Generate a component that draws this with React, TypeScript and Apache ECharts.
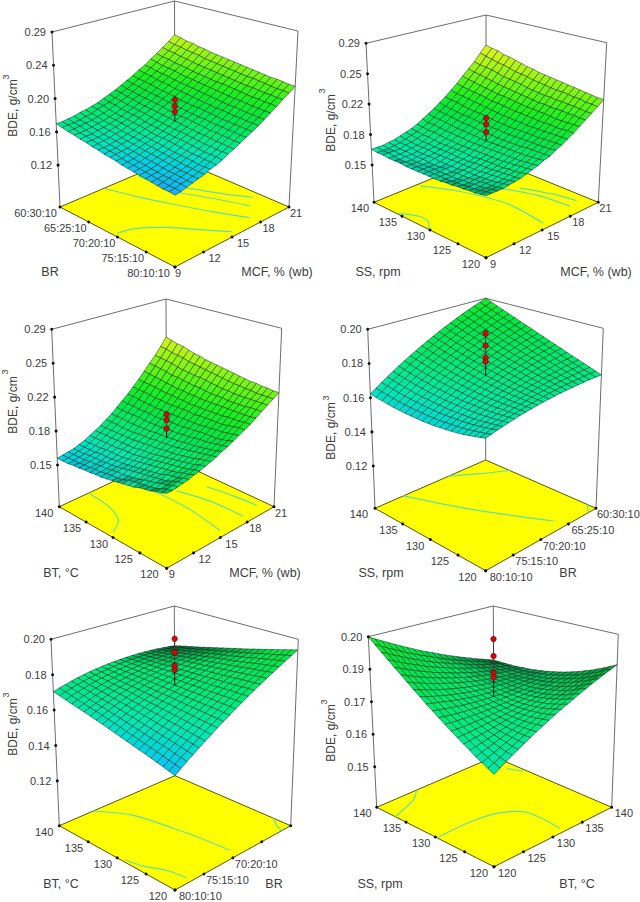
import React, { useEffect, useRef } from "react";
import * as echarts from "echarts";

// ---- surface values: rows run from the left edge to the front edge, columns along the right axis
const surfaceA = [
[173,173,174,175,177,178,180,182,185,188,191,195,199,203,208,212,218,223,229,235,242],
[171,172,172,173,175,176,179,181,183,186,190,193,197,201,206,211,216,221,227,233,240],
[169,170,171,172,173,175,177,179,182,185,188,192,196,200,205,209,214,220,226,232,238],
[168,168,169,170,172,173,175,177,180,183,187,190,194,199,203,208,213,218,224,230,237],
[166,167,167,169,170,172,174,176,179,182,185,189,193,197,202,207,212,217,223,229,235],
[165,165,166,167,169,171,173,175,178,181,184,188,192,196,201,205,210,216,221,228,234],
[163,164,165,166,168,169,172,174,177,180,183,187,191,195,199,204,209,214,220,226,232],
[162,162,163,165,166,168,170,173,175,178,182,186,189,194,198,203,208,213,219,225,231],
[160,161,162,164,165,167,169,172,174,177,181,184,188,192,197,202,207,212,218,224,230],
[159,160,161,162,164,166,168,170,173,176,180,183,187,191,196,201,206,211,217,223,229],
[158,158,160,161,163,165,167,169,172,175,179,182,186,190,195,200,205,210,216,222,228],
[156,157,158,160,162,164,166,169,171,174,178,182,185,190,194,199,204,210,215,221,227],
[155,156,157,159,161,163,165,168,170,174,177,181,184,189,193,198,203,209,214,220,226],
[154,155,156,158,160,162,164,167,170,173,176,180,184,188,192,197,202,208,213,219,225],
[153,154,155,157,159,161,163,166,169,172,175,179,183,187,192,196,201,207,212,219,224],
[152,153,154,156,158,160,162,165,168,171,175,178,182,186,191,196,201,206,212,218,223],
[151,152,153,155,157,159,162,164,167,170,174,178,182,186,190,195,200,205,211,217,222],
[150,151,153,155,156,158,161,164,166,170,173,177,181,185,190,194,199,205,210,216,222],
[149,150,152,154,156,158,160,163,166,169,173,177,181,185,189,194,199,204,210,215,221],
[149,150,152,153,155,157,160,163,166,169,172,176,180,184,189,193,198,204,209,215,220],
[148,149,151,153,155,157,160,162,165,169,172,176,180,184,188,193,198,203,209,214,220],
];
const surfaceB = [
[168,168,168,169,170,172,174,176,179,183,187,191,196,201,207,213,220,227,234,243,251],
[167,167,167,168,169,171,173,175,178,181,185,190,194,199,205,211,218,225,232,241,249],
[167,167,167,167,169,170,172,174,177,181,185,189,193,199,204,210,217,224,231,239,248],
[166,166,166,167,168,169,171,174,177,180,184,188,192,197,203,209,215,222,230,237,245],
[166,165,166,166,167,169,171,173,176,179,183,187,191,196,202,208,214,221,228,236,244],
[166,165,165,166,167,169,170,172,175,179,182,186,191,195,201,207,213,219,226,234,242],
[165,165,165,166,167,168,170,172,175,178,182,186,190,195,200,205,211,218,225,232,240],
[165,165,165,165,167,168,170,172,174,178,181,185,189,194,199,205,211,217,224,231,238],
[165,165,165,165,166,168,170,172,174,177,181,184,189,193,198,204,210,216,223,230,237],
[165,165,165,165,166,168,169,172,174,177,180,184,188,192,197,203,209,215,221,228,235],
[165,165,165,166,166,168,169,171,174,177,180,184,188,192,197,202,208,214,220,227,234],
[165,165,165,165,166,168,169,171,174,177,180,183,187,191,196,202,207,213,219,226,233],
[165,165,165,166,167,168,170,172,174,177,180,183,187,191,196,201,207,212,218,225,232],
[166,165,165,166,167,168,170,172,174,177,180,183,187,191,195,201,206,212,218,224,231],
[166,166,166,166,167,168,170,172,174,177,180,183,187,191,195,200,206,211,217,224,230],
[167,166,166,167,167,169,170,172,174,177,180,183,187,191,195,200,205,211,217,223,229],
[167,167,167,167,168,169,171,172,175,177,180,184,187,190,195,200,204,211,216,222,228],
[168,167,167,168,168,170,171,173,175,177,180,184,187,191,195,199,204,210,216,222,227],
[168,168,168,168,169,170,172,173,176,178,181,184,187,191,195,199,204,210,215,220,226],
[169,169,169,169,170,171,172,174,176,178,181,184,187,191,195,200,204,209,214,220,225],
[170,170,170,170,171,172,173,175,177,179,182,184,188,191,195,199,204,209,214,219,225],
];
const surfaceC = [
[157,158,159,160,162,164,167,170,173,177,181,186,191,196,202,208,215,222,229,237,246],
[157,158,159,160,162,164,167,170,173,177,181,185,190,196,201,207,214,221,228,236,244],
[157,158,159,160,162,164,167,170,173,177,181,185,190,195,201,207,213,220,227,234,242],
[158,158,159,161,162,164,167,170,173,176,180,185,189,194,200,206,212,219,226,233,241],
[158,159,160,161,163,165,167,170,173,176,180,185,189,194,199,205,211,217,224,232,239],
[159,159,160,161,163,165,167,170,173,176,180,184,189,193,199,204,210,217,223,230,237],
[159,160,161,162,163,165,168,170,173,177,180,184,188,193,198,204,209,216,222,229,236],
[160,160,161,162,164,165,168,170,174,177,180,184,188,193,198,203,209,215,221,228,234],
[160,161,162,163,164,166,168,171,174,177,181,184,189,193,198,203,208,214,221,227,233],
[161,162,163,164,165,167,169,172,175,178,181,185,189,193,198,202,208,214,220,226,232],
[162,162,163,165,166,168,170,172,175,178,181,185,189,193,198,202,207,213,219,225,231],
[163,163,164,166,167,169,171,173,176,179,182,185,189,193,197,202,207,212,218,224,230],
[164,165,165,167,168,170,172,174,177,179,182,186,190,193,198,202,207,212,217,223,229],
[165,166,166,168,169,171,173,175,177,180,183,186,190,193,198,202,207,212,217,222,228],
[166,167,168,169,170,172,174,176,178,181,184,187,191,194,198,202,207,211,216,222,227],
[168,168,169,170,171,173,175,177,179,182,184,188,191,194,198,202,207,211,216,221,226],
[169,169,170,171,173,174,176,178,180,183,185,188,191,195,198,203,207,211,216,221,226],
[170,170,172,172,174,175,177,179,181,184,186,189,191,195,199,203,207,211,216,220,225],
[172,172,173,174,175,177,178,180,183,185,187,190,192,196,200,203,207,212,216,220,225],
[173,174,175,176,177,178,180,182,184,186,188,191,193,197,201,204,207,212,216,220,224],
[175,175,176,177,178,180,181,183,185,187,190,192,195,198,201,204,208,212,216,220,224],
];
const surfaceD = [
[1622,1645,1668,1690,1712,1733,1754,1774,1794,1814,1833,1852,1870,1888,1905,1922,1939,1955,1970,1985,2000],
[1615,1638,1660,1682,1703,1724,1745,1765,1784,1804,1822,1841,1858,1876,1893,1909,1925,1941,1956,1971,1985],
[1610,1632,1654,1675,1696,1716,1736,1756,1775,1794,1811,1829,1846,1863,1880,1896,1911,1926,1941,1955,1969],
[1605,1626,1648,1668,1689,1709,1728,1747,1766,1784,1801,1819,1835,1852,1868,1883,1898,1913,1927,1941,1954],
[1600,1621,1642,1662,1682,1701,1720,1739,1757,1775,1792,1808,1825,1840,1856,1871,1885,1899,1913,1926,1939],
[1597,1617,1638,1657,1677,1696,1714,1732,1749,1767,1783,1799,1815,1830,1845,1860,1873,1887,1900,1913,1925],
[1594,1614,1634,1652,1671,1688,1707,1725,1741,1758,1774,1790,1805,1819,1834,1848,1861,1874,1886,1898,1910],
[1593,1612,1631,1650,1668,1685,1703,1719,1735,1751,1766,1782,1796,1810,1824,1837,1849,1862,1874,1885,1896],
[1592,1611,1629,1647,1664,1681,1697,1714,1729,1744,1759,1774,1787,1801,1813,1826,1838,1850,1861,1872,1882],
[1591,1609,1627,1645,1660,1677,1693,1708,1723,1738,1752,1765,1779,1791,1803,1816,1827,1838,1849,1859,1868],
[1592,1609,1626,1643,1659,1674,1690,1704,1718,1732,1745,1759,1771,1783,1794,1806,1816,1827,1837,1846,1855],
[1593,1609,1626,1641,1657,1671,1686,1700,1713,1727,1739,1751,1763,1774,1785,1796,1805,1814,1824,1833,1841],
[1596,1612,1627,1642,1656,1670,1684,1697,1710,1722,1734,1746,1756,1767,1777,1786,1796,1804,1813,1820,1828],
[1599,1614,1629,1643,1656,1670,1683,1695,1706,1718,1729,1740,1750,1760,1769,1779,1787,1794,1803,1809,1815],
[1602,1616,1630,1643,1656,1669,1681,1692,1703,1714,1724,1734,1743,1752,1761,1769,1776,1783,1790,1796,1802],
[1607,1620,1633,1645,1657,1669,1680,1691,1701,1711,1720,1729,1737,1745,1753,1760,1767,1773,1779,1784,1789],
[1612,1624,1637,1648,1659,1670,1680,1690,1699,1708,1717,1725,1733,1739,1746,1752,1758,1763,1769,1773,1777],
[1619,1630,1642,1652,1662,1672,1682,1691,1698,1707,1714,1721,1728,1734,1740,1745,1750,1754,1758,1762,1765],
[1626,1636,1647,1656,1665,1675,1683,1691,1698,1705,1712,1718,1723,1729,1734,1738,1742,1745,1748,1751,1753],
[1633,1642,1652,1660,1669,1677,1684,1691,1697,1704,1709,1714,1719,1723,1727,1731,1733,1735,1738,1740,1741],
[1642,1650,1659,1666,1673,1680,1687,1692,1698,1703,1708,1712,1715,1719,1721,1724,1726,1727,1728,1729,1729],
];
const surfaceE = [
[1704,1714,1723,1732,1740,1747,1753,1758,1762,1766,1769,1771,1772,1773,1773,1772,1770,1767,1763,1759,1754],
[1695,1706,1716,1725,1733,1741,1748,1754,1759,1764,1768,1771,1773,1774,1775,1775,1774,1773,1770,1767,1763],
[1686,1697,1708,1718,1727,1735,1743,1750,1756,1761,1766,1770,1773,1776,1777,1778,1779,1778,1777,1775,1773],
[1677,1689,1700,1711,1721,1730,1739,1746,1753,1759,1765,1770,1774,1777,1780,1782,1783,1785,1784,1783,1782],
[1668,1680,1692,1704,1714,1724,1733,1742,1749,1757,1763,1769,1774,1779,1782,1785,1788,1790,1791,1791,1791],
[1660,1672,1684,1697,1708,1719,1729,1738,1747,1755,1763,1768,1775,1780,1785,1790,1793,1796,1798,1799,1800],
[1651,1665,1678,1691,1702,1714,1725,1735,1745,1753,1762,1769,1776,1783,1788,1794,1798,1802,1805,1808,1810],
[1642,1656,1670,1684,1696,1708,1720,1731,1741,1751,1760,1768,1777,1784,1791,1797,1803,1808,1812,1816,1819],
[1633,1648,1663,1677,1690,1703,1715,1727,1738,1748,1759,1768,1777,1785,1793,1801,1807,1813,1819,1824,1829],
[1624,1640,1655,1669,1684,1697,1710,1723,1734,1746,1757,1767,1777,1787,1796,1804,1812,1819,1826,1832,1838],
[1615,1632,1647,1662,1677,1691,1705,1719,1732,1744,1756,1767,1778,1788,1798,1807,1816,1825,1833,1840,1847],
[1606,1623,1639,1655,1671,1686,1701,1715,1729,1742,1755,1767,1779,1790,1802,1812,1821,1831,1839,1848,1856],
[1597,1615,1632,1648,1665,1681,1696,1711,1725,1739,1753,1766,1779,1791,1803,1815,1826,1836,1846,1856,1865],
[1588,1606,1624,1641,1658,1675,1691,1707,1722,1737,1752,1766,1780,1793,1806,1819,1830,1842,1853,1864,1875],
[1579,1598,1616,1634,1652,1669,1686,1703,1719,1735,1751,1765,1780,1795,1808,1822,1835,1848,1860,1872,1884],
[1571,1590,1609,1627,1646,1664,1682,1699,1716,1733,1750,1765,1781,1796,1811,1826,1840,1854,1868,1881,1894],
[1562,1582,1602,1621,1640,1659,1677,1695,1713,1731,1749,1765,1782,1798,1814,1830,1845,1860,1875,1889,1903],
[1553,1574,1595,1614,1634,1654,1672,1691,1711,1729,1747,1765,1783,1799,1817,1833,1850,1867,1882,1897,1912],
[1544,1565,1586,1607,1628,1648,1668,1688,1707,1727,1746,1765,1783,1801,1819,1837,1854,1872,1889,1905,1922],
[1535,1557,1579,1600,1622,1643,1663,1684,1704,1724,1744,1764,1784,1803,1822,1841,1859,1878,1896,1913,1931],
[1526,1549,1571,1593,1615,1637,1658,1680,1701,1722,1743,1763,1784,1804,1824,1844,1863,1883,1902,1921,1940],
];
const surfaceF = [
[2000,1986,1973,1960,1947,1934,1921,1909,1896,1884,1873,1861,1849,1838,1827,1816,1806,1795,1785,1775,1765],
[1977,1964,1951,1939,1927,1914,1902,1891,1880,1869,1858,1847,1837,1827,1818,1808,1799,1790,1781,1772,1765],
[1955,1943,1931,1919,1907,1896,1885,1874,1864,1854,1845,1835,1827,1818,1809,1801,1793,1786,1779,1772,1765],
[1933,1922,1910,1899,1889,1879,1868,1859,1850,1841,1832,1824,1816,1809,1802,1795,1788,1782,1776,1771,1766],
[1912,1901,1891,1881,1871,1862,1852,1844,1836,1828,1820,1814,1807,1800,1795,1789,1784,1779,1775,1771,1767],
[1892,1882,1872,1863,1854,1846,1838,1831,1823,1817,1810,1804,1799,1794,1789,1785,1781,1778,1775,1772,1770],
[1872,1863,1855,1846,1839,1831,1825,1818,1812,1806,1801,1796,1792,1787,1785,1781,1778,1776,1775,1773,1772],
[1852,1844,1837,1830,1823,1817,1811,1806,1801,1796,1793,1789,1786,1783,1781,1779,1778,1776,1776,1775,1776],
[1834,1827,1820,1815,1809,1804,1800,1796,1792,1789,1786,1783,1781,1780,1778,1778,1778,1777,1778,1779,1780],
[1815,1810,1806,1801,1796,1793,1789,1786,1783,1781,1780,1778,1777,1777,1777,1777,1778,1779,1781,1783,1785],
[1798,1794,1790,1787,1784,1781,1779,1777,1776,1775,1775,1774,1775,1775,1776,1778,1780,1782,1784,1787,1791],
[1781,1778,1775,1773,1772,1771,1770,1770,1769,1770,1770,1772,1773,1775,1776,1779,1782,1785,1788,1793,1797],
[1765,1764,1763,1762,1762,1762,1762,1763,1764,1766,1767,1769,1772,1774,1778,1781,1785,1789,1794,1799,1804],
[1749,1749,1749,1751,1752,1753,1755,1757,1760,1762,1765,1768,1772,1776,1780,1785,1790,1795,1800,1806,1812],
[1734,1736,1738,1740,1743,1746,1749,1752,1756,1760,1764,1768,1773,1778,1783,1789,1794,1800,1807,1814,1820],
[1720,1723,1727,1731,1735,1739,1744,1749,1754,1759,1765,1770,1776,1782,1788,1795,1801,1808,1816,1822,1830],
[1706,1711,1716,1722,1728,1734,1740,1746,1753,1759,1766,1772,1779,1787,1793,1800,1808,1816,1823,1831,1839],
[1692,1699,1707,1714,1722,1729,1737,1744,1752,1760,1768,1775,1783,1792,1799,1808,1816,1825,1833,1842,1850],
[1680,1689,1698,1707,1717,1726,1735,1744,1753,1762,1771,1780,1789,1798,1807,1816,1825,1834,1843,1852,1861],
[1668,1679,1689,1701,1711,1723,1733,1744,1755,1766,1775,1786,1795,1806,1816,1827,1835,1846,1854,1865,1873],
[1656,1669,1683,1696,1708,1721,1733,1745,1757,1769,1781,1792,1803,1814,1825,1835,1846,1856,1866,1875,1885],
];

// replicated centre-point measurements, BDE g/cm3
const pointsA = [0.206, 0.198, 0.191];
const pointsB = [0.206, 0.199, 0.190];
const pointsC = [0.2045, 0.1987, 0.190];
const pointsD = [0.1988, 0.1917, 0.1847, 0.1824];
const pointsE = [0.2016, 0.1939, 0.1864, 0.1842];
const pointsF = [0.1994, 0.1929, 0.1866, 0.1847];
// where each panel's stem meets the surface
const stemFoot = [0.178, 0.179, 0.18, 0.1745, 0.1758, 0.1773];

// iso-lines on the floor, [share of left axis, share of depth axis]
const contoursA = [
  [[0.007,0.385],[0.194,0.446],[0.443,0.545],[0.69,0.647],[0.911,0.746]],
  [[0.024,0.66],[0.191,0.681],[0.348,0.757],[0.589,0.864],[0.739,0.947]],
  [[0.355,0.677],[0.567,0.77],[0.803,0.854]],
  [[0.466,0.028],[0.495,0.145],[0.625,0.305],[0.791,0.43],[0.952,0.545]],
];
const contoursB = [
  [[0.025,0.385],[0.253,0.514],[0.58,0.603],[0.941,0.569]],
  [[0.486,0.816],[0.703,0.896],[0.878,0.929]],
  [[0.418,0.735],[0.635,0.815],[0.901,0.846]],
  [[0.207,0.01],[0.328,0.082],[0.41,0.074],[0.489,0]],
];
const contoursC = [
  [[0.009,0.525],[0.244,0.601],[0.576,0.61],[0.939,0.558]],
  [[0.015,0.271],[0.226,0.246],[0.38,0.17],[0.455,0.048]],
  [[0.481,0.892],[0.696,0.925],[0.898,0.941]],
  [[0.376,0.717],[0.657,0.778],[0.931,0.783]],
];
const contoursD = [
  [[0,0.256],[0.406,0.454],[0.901,0.713]],
  [[0,0.664],[0.114,0.836],[0.217,1]],
  [[0.92,1],[1,0.93]],
];
const contoursE = [
  [[0,0.294],[0.2,0.44],[0.484,0.502],[0.685,0.531],[0.924,0.552]],
  [[0.548,0.02],[0.676,0.05],[0.808,0.12],[0.956,0.145]],
  [[0.85,1],[0.93,0.95],[1,0.92]],
];
const contoursF = [
  [[0.515,0.01],[0.511,0.283],[0.545,0.476],[0.645,0.603],[0.77,0.62],[0.955,0.605]],
  [[0.005,0.335],[0.077,0.235],[0.157,0]],
  [[0.17,0.936],[0.266,0.98]],
];

// tick labels
const mixRatios = ["60:30:10", "65:25:10", "70:20:10", "75:15:10", "80:10:10"];
const mixRatiosBack = ["80:10:10", "75:15:10", "70:20:10", "65:25:10", "60:30:10"];
const mixRatiosPartial = ["80:10:10", "75:15:10", "70:20:10", "", ""];
const speedLabels = ["140", "135", "130", "125", "120"];
const tempLabels = ["120", "125", "130", "135", "140"];
const moistureLabels = ["9", "12", "15", "18", "21"];
const zLabelsA = ["0.29", "0.24", "0.20", "0.16", "0.12"];
const zLabelsB = ["0.29", "0.25", "0.22", "0.18", "0.15"];
const zLabelsD = ["0.20", "0.18", "0.16", "0.14", "0.12"];
const zLabelsF = ["0.20", "0.19", "0.17", "0.16", "0.15"];
const zTicksA = [0.29, 0.2475, 0.205, 0.1625, 0.12];
const zTicksB = [0.29, 0.255, 0.22, 0.185, 0.15];
const zTicksD = [0.2, 0.18, 0.16, 0.14, 0.12];
const zTicksF = [0.2, 0.1875, 0.175, 0.1625, 0.15];

type P = [number, number];
const panels: any[] = [
  { values: surfaceA, unit: 1000, points: pointsA, contours: contoursA, zMin: 0.0666, zMax: 0.29, zTicks: zTicksA, zLabels: zLabelsA, left: mixRatios, right: moistureLabels,
    nameL: "BR", nameR: "MCF, % (wb)",
    L: [60, 207], F: [175, 267], R: [289, 207], B: [175, 158], TL: [52, 32], TF: [175, 70], TR: [298, 31], TB: [174.5, 1],
    posL: [50, 272], posR: [277, 272], posZ: [13, 108], posSup: [6, 77], dxL: [-3, -2, -2, -2, -5], dxR: [0, 5, 5, 2, 1] },
  { values: surfaceB, unit: 1000, points: pointsB, contours: contoursB, zMin: 0.107, zMax: 0.29, zTicks: zTicksB, zLabels: zLabelsB, left: speedLabels, right: moistureLabels,
    nameL: "SS, rpm", nameR: "MCF, % (wb)",
    L: [374, 202.3], F: [486, 257.7], R: [598.3, 202.3], B: [486, 156.5], TL: [366, 43.3], TF: [486, 77.7], TR: [606.7, 42.7], TB: [486, 15],
    posL: [378, 272], posR: [596, 272], posZ: [331, 123], posSup: [322, 91], dxL: [-5, -5, -5, -7, -6], dxR: [4, 5, 5, 2, 1] },
  { values: surfaceC, unit: 1000, points: pointsC, contours: contoursC, zMin: 0.107, zMax: 0.29, zTicks: zTicksB, zLabels: zLabelsB, left: speedLabels, right: moistureLabels,
    nameL: "BT, °C", nameR: "MCF, % (wb)",
    L: [59.3, 506.7], F: [166.7, 568.3], R: [274, 506.7], B: [166.7, 456.7], TL: [51.7, 329.3], TF: [166.7, 366.6], TR: [281.7, 328.3], TB: [166, 299],
    posL: [61, 573], posR: [265, 573], posZ: [13, 405], posSup: [5, 372], dxL: [-6, -5, -5, -7, -8], dxR: [2, 5, 5, 2, 1] },
  { values: surfaceD, unit: 10000, points: pointsD, contours: contoursD, zMin: 0.0953, zMax: 0.2, zTicks: zTicksD, zLabels: zLabelsD, left: speedLabels, right: mixRatiosBack,
    nameL: "SS, rpm", nameR: "BR",
    L: [375, 508.3], F: [485.7, 570.7], R: [596, 508.3], B: [485.7, 460], TL: [367.7, 329.3], TF: [485.7, 369.4], TR: [603.3, 328.3], TB: [485.7, 298.3],
    posL: [381, 573], posR: [568, 573], posZ: [331, 431], posSup: [326, 398], dxL: [-7, -5, -6, -9, -9], dxR: [4, 2, 2, 3, 1] },
  { values: surfaceE, unit: 10000, points: pointsE, contours: contoursE, zMin: 0.0947, zMax: 0.2, zTicks: zTicksD, zLabels: zLabelsD, left: speedLabels, right: mixRatiosPartial,
    nameL: "BT, °C", nameR: "BR",
    L: [59.3, 825.7], F: [175, 890], R: [290.7, 825.7], B: [175, 775.7], TL: [51, 639.3], TF: [175, 682], TR: [298.3, 639.3], TB: [174.3, 606],
    posL: [61, 884], posR: [274, 884], posZ: [13, 727], posSup: [6, 695], dxL: [-6, -5, -5, -7, -8], dxR: [4, 2, 2, 3, 1] },
  { values: surfaceF, unit: 10000, points: pointsF, contours: contoursF, zMin: 0.1344, zMax: 0.2, zTicks: zTicksF, zLabels: zLabelsF, left: speedLabels, right: tempLabels,
    nameL: "SS, rpm", nameR: "BT, °C",
    L: [376.7, 807.3], F: [494, 866.7], R: [611.7, 807.3], B: [494, 756.7], TL: [368.3, 636.7], TF: [494, 672.7], TR: [618.3, 634.3], TB: [493.3, 606],
    posL: [380, 884], posR: [577, 884], posZ: [331, 733], posSup: [324, 702], dxL: [-5, -5, -5, -7, -6], dxR: [4, 4, 4, 3, 3] },
];

const colorStops: [number, number[]][] = [
  [0.148, [25, 175, 255]],
  [0.157, [0, 210, 230]],
  [0.165, [0, 232, 180]],
  [0.175, [0, 235, 125]],
  [0.19, [0, 232, 70]],
  [0.205, [25, 240, 30]],
  [0.22, [105, 245, 20]],
  [0.24, [195, 245, 20]],
  [0.26, [250, 240, 30]],
  [0.29, [255, 255, 60]],
];

function colorOf(z: number, shade: number) {
  const paint = (c: number[]) => `rgb(${c.map((x) => Math.round(x * (1 - shade))).join(",")})`;
  if (z <= colorStops[0][0]) return paint(colorStops[0][1]);
  for (let k = 1; k < colorStops.length; k++) {
    if (z <= colorStops[k][0]) {
      const [a, ca] = colorStops[k - 1];
      const [b, cb] = colorStops[k];
      const t = (z - a) / (b - a);
      return paint(ca.map((c, n) => c + (cb[n] - c) * t));
    }
  }
  return paint([255, 255, 60]);
}

function mix(p: any, a: string, b: string, c: string, d: string, u: number, v: number): P {
  const w = [(1 - u) * (1 - v), u * (1 - v), (1 - u) * v, u * v];
  return [
    w[0] * p[a][0] + w[1] * p[b][0] + w[2] * p[c][0] + w[3] * p[d][0],
    w[0] * p[a][1] + w[1] * p[b][1] + w[2] * p[c][1] + w[3] * p[d][1],
  ];
}
// u runs left corner -> front corner, v runs left corner -> back corner
function project(p: any, u: number, v: number, z: number): P {
  const floor = mix(p, "L", "F", "B", "R", u, v);
  const top = mix(p, "TL", "TF", "TB", "TR", u, v);
  const t = (z - p.zMin) / (p.zMax - p.zMin);
  return [floor[0] + (top[0] - floor[0]) * t, floor[1] + (top[1] - floor[1]) * t];
}

const FONT = '"Liberation Sans", Arial, sans-serif';
const INK = "#3c3c3c";
const FRAME = "#5c5c5c";

function textEl(text: string, xy: number[], align: string, size: number, rotation = 0) {
  return {
    type: "text",
    x: xy[0],
    y: xy[1],
    rotation,
    silent: true,
    style: { text, x: 0, y: 0, fill: INK, font: `${size}px ${FONT}`, align, verticalAlign: "middle", textAlign: align, textVerticalAlign: "middle" },
  };
}

function backdropSeries(p: any) {
  return {
    type: "custom",
    coordinateSystem: "cartesian2d",
    silent: true,
    clip: false,
    data: [[0, 0]],
    renderItem: (_: any, api: any) => {
      const c = (q: number[]) => api.coord(q);
      const line = (a: number[], b: number[], stroke = FRAME, lineWidth = 0.9) => {
        const s = c(a), e = c(b);
        return { type: "line", shape: { x1: s[0], y1: s[1], x2: e[0], y2: e[1] }, style: { stroke, lineWidth } };
      };
      const children: any[] = [
        line(p.TL, p.TB), line(p.TB, p.TR), line(p.TL, p.L), line(p.TR, p.R), line(p.TB, p.B),
        { type: "polygon", shape: { points: [p.L, p.F, p.R, p.B].map(c) }, style: { fill: "#ffff00", stroke: "#55550a", lineWidth: 1 } },
      ];
      p.contours.forEach((ln: number[][]) => {
        children.push({
          type: "polyline",
          shape: { points: ln.map(([u, v]) => c(mix(p, "L", "F", "B", "R", u, v))), smooth: 0.3 },
          style: { fill: "none", stroke: "#5fe0a8", lineWidth: 1.2 },
        });
      });
      return { type: "group", children };
    },
  };
}

function surfaceSeries(p: any) {
  const n = p.values.length - 1;
  const cells: number[][] = [];
  for (let i = 0; i < n; i++) for (let j = n - 1; j >= 0; j--) cells.push([i, j]);
  const zAt = (i: number, j: number) => p.values[i][j] / p.unit;
  return {
    type: "custom",
    coordinateSystem: "cartesian2d",
    silent: true,
    clip: false,
    data: cells,
    renderItem: (_: any, api: any) => {
      const i = api.value(0), j = api.value(1);
      const corner = (a: number, b: number) => api.coord(project(p, a / n, b / n, zAt(a, b)));
      const mean = (zAt(i, j) + zAt(i + 1, j) + zAt(i, j + 1) + zAt(i + 1, j + 1)) / 4;
      const pts = [corner(i, j), corner(i + 1, j), corner(i + 1, j + 1), corner(i, j + 1)];
      // cells seen at a grazing angle read darker, their mesh lines crowd together
      let area = 0;
      pts.forEach((q, k) => {
        const r = pts[(k + 1) % 4];
        area += q[0] * r[1] - r[0] * q[1];
      });
      area = Math.abs(area) / 2;
      const shade = Math.max(0, Math.min(0.55, ((30 - area) / 30) * 0.75));
      return {
        type: "polygon",
        shape: { points: pts },
        style: { fill: colorOf(mean, shade), stroke: "rgba(0,15,5,0.72)", lineWidth: 0.6 },
      };
    },
  };
}

function overlaySeries(p: any, index: number) {
  return {
    type: "custom",
    coordinateSystem: "cartesian2d",
    silent: true,
    clip: false,
    data: [[0, 0]],
    renderItem: (_: any, api: any) => {
      const c = (q: number[]) => api.coord(q);
      const children: any[] = [];
      const tick = (xy: number[]) => {
        const q = c(xy);
        children.push({ type: "circle", shape: { cx: q[0], cy: q[1], r: 1.5 }, style: { fill: "#111" } });
      };
      // measured points and stem
      const high = Math.max(...p.points), low = Math.min(...p.points);
      const s0 = c(project(p, 0.5, 0.5, stemFoot[index]));
      const s1 = c(project(p, 0.5, 0.5, low));
      const s2 = c(project(p, 0.5, 0.5, high));
      children.push({ type: "line", shape: { x1: s0[0], y1: s0[1], x2: s1[0], y2: s1[1] }, style: { stroke: "#111", lineWidth: 1 } });
      children.push({ type: "line", shape: { x1: s1[0], y1: s1[1], x2: s2[0], y2: s2[1] }, style: { stroke: "#553333", lineWidth: 1 } });
      p.points.forEach((z: number) => {
        const q = c(project(p, 0.5, 0.5, z));
        children.push({ type: "circle", shape: { cx: q[0], cy: q[1], r: 2.8 }, style: { fill: "#d00a0a", stroke: "#5a0000", lineWidth: 0.5 } });
      });
      // value axis
      p.zTicks.forEach((z: number, k: number) => {
        const xy = project(p, 0, 0, z);
        tick(xy);
        children.push(textEl(p.zLabels[k], c([xy[0] - 6, xy[1]]), "right", 11));
      });
      // floor axes
      p.left.forEach((label: string, k: number) => {
        const xy = mix(p, "L", "F", "B", "R", k / 4, 0);
        tick(xy);
        children.push(textEl(label, c([xy[0] + p.dxL[k], xy[1] + 6]), "right", 11));
      });
      p.right.forEach((label: string, k: number) => {
        const xy = mix(p, "L", "F", "B", "R", 1, k / 4);
        tick(xy);
        if (label) children.push(textEl(label, c([xy[0] + p.dxR[k], xy[1] + 6]), "left", 11));
      });
      // axis names
      children.push(textEl(p.nameL, c(p.posL), "center", 12.5));
      children.push(textEl(p.nameR, c(p.posR), "center", 12.5));
      children.push(textEl("BDE, g/cm", c(p.posZ), "center", 12, Math.PI / 2));
      children.push(textEl("3", c(p.posSup), "center", 9, Math.PI / 2));
      return { type: "group", children };
    },
  };
}

export default function App() {
  const ref = useRef<HTMLDivElement>(null);
  useEffect(() => {
    const chart = echarts.init(ref.current!, null, { renderer: "svg" });
    const series: any[] = [];
    panels.forEach((p, index) => {
      series.push(backdropSeries(p), surfaceSeries(p), overlaySeries(p, index));
    });
    chart.setOption({
      animation: false,
      backgroundColor: "#ffffff",
      tooltip: { show: false },
      grid: { left: 0, right: 0, top: 0, bottom: 0 },
      xAxis: { type: "value", min: 0, max: 640, show: false },
      yAxis: { type: "value", min: 0, max: 902, inverse: true, show: false },
      series,
    });
    return () => chart.dispose();
  }, []);
  return <div ref={ref} style={{ position: "absolute", left: 0, top: 0, width: 640, height: 902 }} />;
}
